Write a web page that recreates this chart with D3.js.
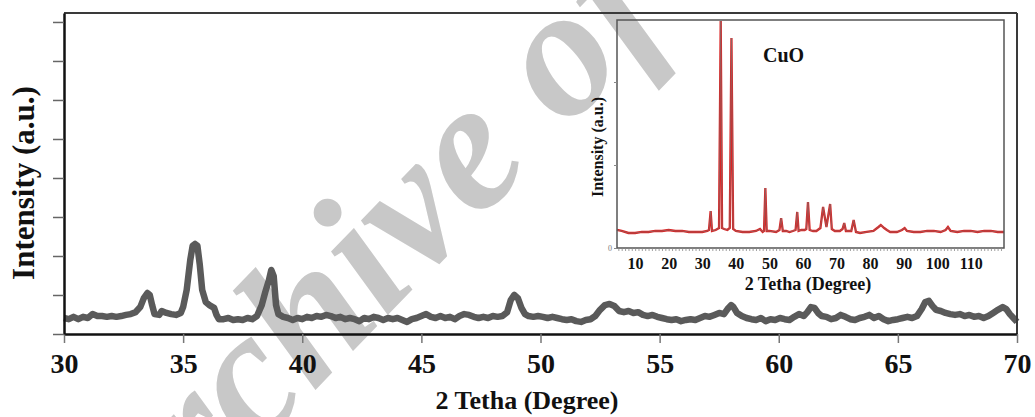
<!DOCTYPE html>
<html>
<head>
<meta charset="utf-8">
<script src="https://cdnjs.cloudflare.com/ajax/libs/d3/7.8.5/d3.min.js"></script>
<style>
  body{margin:0;background:#fff;}
  svg{display:block;}
  text{font-family:"Liberation Serif","Times New Roman",serif;font-weight:bold;}
</style>
</head>
<body>
<div id="chart"></div>
<script>

// main pattern, 2 theta (degree) and intensity (a.u.)
var mainTheta=[30.0,30.2,30.4,30.6,30.8,31.0,31.2,31.4,31.6,31.8,32.0,32.2,32.4,32.6,32.8,33.0,33.2,33.35,33.5,33.6,33.7,33.8,34.0,34.1,34.3,34.5,34.7,34.9,
  35.0,35.15,35.3,35.4,35.5,35.6,35.7,35.8,35.95,36.1,36.3,36.4,36.5,36.7,36.9,37.1,37.3,37.5,37.7,37.9,38.1,38.3,38.45,38.6,38.7,38.8,38.9,39.0,39.2,39.4,39.6,39.8,
  40.0,40.2,40.4,40.6,40.8,41.0,41.2,41.4,41.6,41.8,42.0,42.2,42.4,42.6,42.8,43.0,43.2,43.4,43.6,43.8,44.0,44.2,44.4,44.6,44.8,
  45.0,45.2,45.4,45.6,45.8,46.0,46.2,46.4,46.6,46.8,47.0,47.2,47.4,47.6,47.8,48.0,48.2,48.4,48.6,48.75,48.9,49.05,49.2,49.35,49.5,49.7,49.9,
  50.1,50.3,50.5,50.7,50.9,51.1,51.3,51.5,51.7,51.9,52.1,52.3,52.5,52.7,52.9,53.1,53.3,53.5,53.7,53.9,54.1,54.3,54.5,54.7,54.9,
  55.1,55.3,55.5,55.7,55.9,56.1,56.3,56.5,56.7,56.9,57.1,57.3,57.5,57.7,57.85,58.0,58.1,58.25,58.45,58.65,58.85,59.05,59.25,59.45,59.65,59.85,
  60.05,60.25,60.45,60.65,60.85,61.05,61.2,61.35,61.5,61.65,61.8,62.0,62.2,62.4,62.6,62.8,63.0,63.2,63.4,63.6,63.8,64.0,64.2,64.4,64.6,64.8,
  65.0,65.2,65.4,65.6,65.8,66.0,66.15,66.3,66.45,66.6,66.8,67.0,67.2,67.4,67.6,67.8,68.0,68.2,68.4,68.6,68.8,69.0,69.2,69.4,69.55,69.7,69.85,70.0];
var mainIntensity=[41,38,44,38,44,41,51,46,46,44,46,44,46,49,51,56,69,92,105,100,74,51,49,59,54,51,49,54,
  69,113,190,226,231,226,177,113,82,74,67,49,38,38,41,36,38,36,41,38,46,74,108,138,164,149,74,51,44,41,36,41,
  38,44,41,46,44,49,46,41,44,38,41,38,33,41,38,44,41,36,41,38,41,36,31,38,41,
  46,51,44,41,46,41,44,38,46,51,49,44,41,44,41,46,44,46,56,87,100,92,67,51,46,44,46,
  44,41,44,41,38,36,38,33,31,36,38,46,62,74,77,72,59,56,59,54,56,49,46,49,44,
  41,38,36,38,33,36,38,36,41,46,44,49,54,51,64,74,69,54,46,41,38,36,41,33,38,36,
  41,38,36,44,51,46,56,69,67,54,46,44,38,41,49,44,38,36,41,44,49,41,46,38,33,36,
  38,41,44,41,46,64,82,85,72,62,59,54,51,49,51,46,49,44,46,41,46,54,62,69,64,51,41,31];

// inset: full range CuO pattern
var insetTheta=[4.6,6,8,10,12,14,16,18,20,22,24,26,28,30,31.5,32.0,32.5,32.9,34.0,35.0,35.5,35.9,36.5,37.5,38.2,38.7,39.2,
  40,42,44,46,47.2,48,48.4,48.8,49.2,50,52,53.0,53.5,54.0,55,56,57,57.8,58.3,58.7,59.5,60.5,61.0,61.5,62.0,63,64,65.2,66.0,67.0,68.1,68.6,
  69.5,71.0,71.8,72.3,72.8,74.4,75.1,75.8,77,79,81,82.5,83.2,84.2,85,86,88,89.5,90.3,91,93,95,97,99,101,102.5,103.2,104,
  106,108,110,112,114,116,118,119.9];
var insetIntensity=[217,205,181,181,193,193,205,205,217,205,205,193,193,193,205,217,446,205,217,241,2735,241,229,217,241,2530,229,
  205,193,193,205,229,193,205,723,205,205,193,217,361,205,205,193,205,217,434,205,217,217,229,554,217,205,205,241,494,253,530,229,
  205,205,229,301,205,205,337,193,181,193,205,253,277,241,217,193,193,217,241,205,193,193,205,205,193,217,253,205,
  193,205,205,193,205,205,193,193];

var mainTicks=[30,35,40,45,50,55,60,65,70];
var mainYTicks=[0,100,200,300,400,500,600,700,800];
var insetTicks=[10,20,30,40,50,60,70,80,90,100,110];
var insetYTicks=[0,1000,2000];

var width=1035, height=417;

var svg=d3.select("#chart").append("svg")
  .attr("width", width)
  .attr("height", height);

// watermark sits behind everything
svg.append("text")
  .attr("transform", "translate(520,178) rotate(-46)")
  .attr("text-anchor", "middle")
  .style("font-size", "185px")
  .style("font-style", "italic")
  .attr("fill", "#c8c8c8")
  .text("Archive of SID");

// ---- main plot ----
var x=d3.scaleLinear().domain([30,70]).range([64,1017]);
var y=d3.scaleLinear().domain([0,823]).range([334,13]);

var mainData=mainTheta.map((t,i) => [t, mainIntensity[i]]);

var line=d3.line()
  .x(d => x(d[0]))
  .y(d => y(d[1]));

svg.append("path")
  .datum(mainData)
  .attr("fill", "none")
  .attr("stroke", "#5a5a5a")
  .attr("stroke-width", 6.5)
  .attr("stroke-linejoin", "round")
  .attr("d", line);

// frame top / right
svg.append("line").attr("x1", x(30)).attr("x2", x(70)).attr("y1", y(823)).attr("y2", y(823))
  .attr("stroke", "#3a3a3a").attr("stroke-width", 2);
svg.append("line").attr("x1", x(70)).attr("x2", x(70)).attr("y1", y(823)).attr("y2", y(0))
  .attr("stroke", "#3a3a3a").attr("stroke-width", 2);

var xAxis=svg.append("g")
  .attr("transform", `translate(0,${y(0)})`)
  .call(d3.axisBottom(x).tickValues(mainTicks).tickSize(9).tickPadding(10).tickSizeOuter(0));
xAxis.select(".domain").attr("stroke", "#111").attr("stroke-width", 2.5);
xAxis.selectAll(".tick line").attr("stroke", "#777").attr("stroke-width", 1.5);
xAxis.selectAll(".tick text")
  .attr("fill", "#111")
  .style("font-size", "28px")
  .style("font-family", "'Liberation Serif', serif")
  .style("font-weight", "bold");

var yAxis=svg.append("g")
  .attr("transform", `translate(${x(30)},0)`)
  .call(d3.axisLeft(y).tickValues(mainYTicks).tickSize(11).tickFormat("").tickSizeOuter(0));
yAxis.select(".domain").attr("stroke", "#111").attr("stroke-width", 2.5);
yAxis.selectAll(".tick line").attr("stroke", "#666").attr("stroke-width", 1.5);

svg.append("text")
  .attr("x", 527).attr("y", 409)
  .attr("text-anchor", "middle")
  .attr("fill", "#111")
  .style("font-size", "26px")
  .text("2 Tetha (Degree)");

svg.append("text")
  .attr("transform", "translate(34,183) rotate(-90)")
  .attr("text-anchor", "middle")
  .attr("fill", "#111")
  .style("font-size", "31px")
  .text("Intensity (a.u.)");

// ---- inset ----
var ix=d3.scaleLinear().domain([4.6,119.9]).range([617,1004]);
var iy=d3.scaleLinear().domain([0,2747]).range([248,20]);

var insetData=insetTheta.map((t,i) => [t, insetIntensity[i]]);

var iline=d3.line()
  .x(d => ix(d[0]))
  .y(d => iy(d[1]));

svg.append("path")
  .datum(insetData)
  .attr("fill", "none")
  .attr("stroke", "#dc2222")
  .attr("stroke-width", 2.3)
  .attr("d", iline);
svg.append("path")
  .datum(insetData)
  .attr("fill", "none")
  .attr("stroke", "#8a6868")
  .attr("stroke-width", 0.7)
  .attr("d", iline);

svg.append("rect")
  .attr("x", ix(4.6)).attr("y", iy(2747))
  .attr("width", ix(119.9)-ix(4.6)).attr("height", iy(0)-iy(2747))
  .attr("fill", "none").attr("stroke", "#555").attr("stroke-width", 1.5);

var ixMinor=svg.append("g")
  .attr("transform", `translate(0,${iy(0)})`)
  .call(d3.axisBottom(ix).tickValues(d3.range(5,120,1)).tickSize(3).tickFormat("").tickSizeOuter(0));
ixMinor.select(".domain").remove();
ixMinor.selectAll(".tick line").attr("stroke", "#888").attr("stroke-width", 0.8);

var ixAxis=svg.append("g")
  .attr("transform", `translate(0,${iy(0)})`)
  .call(d3.axisBottom(ix).tickValues(insetTicks).tickSize(0).tickPadding(10).tickSizeOuter(0));
ixAxis.select(".domain").remove();
ixAxis.selectAll(".tick text")
  .attr("fill", "#111")
  .style("font-size", "16px")
  .style("font-family", "'Liberation Serif', serif")
  .style("font-weight", "bold");

var iyAxis=svg.append("g")
  .attr("transform", `translate(${ix(4.6)},0)`)
  .call(d3.axisLeft(iy).tickValues(insetYTicks).tickSize(3).tickPadding(2)
    .tickFormat(d => d===0 ? "0" : "").tickSizeOuter(0));
iyAxis.select(".domain").remove();
iyAxis.selectAll(".tick line").attr("stroke", "#888");
iyAxis.selectAll(".tick text").attr("fill", "#777").style("font-size", "8px").style("font-weight", "normal");

svg.append("text")
  .attr("x", 808).attr("y", 290)
  .attr("text-anchor", "middle")
  .attr("fill", "#111")
  .style("font-size", "18px")
  .text("2 Tetha (Degree)");

svg.append("text")
  .attr("transform", "translate(603,147) rotate(-90)")
  .attr("text-anchor", "middle")
  .attr("fill", "#111")
  .style("font-size", "16px")
  .text("Intensity (a.u.)");

svg.append("text")
  .attr("x", 763).attr("y", 62)
  .attr("fill", "#111")
  .style("font-size", "20px")
  .text("CuO");

</script>
</body>
</html>
